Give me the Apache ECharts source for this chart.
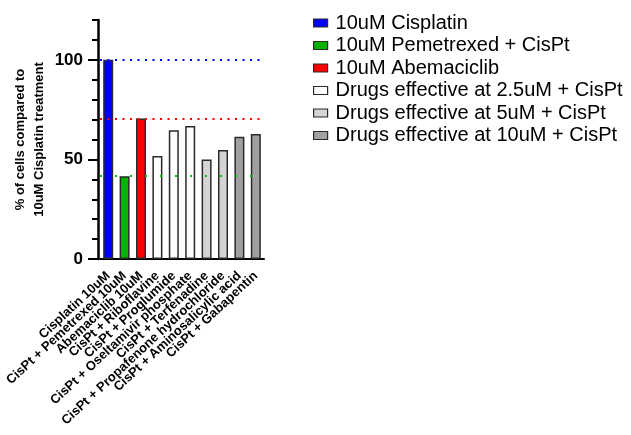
<!DOCTYPE html>
<html>
<head>
<meta charset="utf-8">
<script src="https://cdn.jsdelivr.net/npm/echarts@6/dist/echarts.min.js"></script>
<style>html,body{margin:0;padding:0;background:#fff}#c{width:631px;height:435px}</style>
</head>
<body>
<div id="c"></div>
<script>
const categories = ['Cisplatin 10uM','CisPt + Pemetrexed 10uM','Abemaciclib 10uM','CisPt + Riboflavine','CisPt + Proglumide','CisPt + Oseltamivir phosphate','CisPt + Terfenadine','CisPt + Propafenone hydrochloride','CisPt + Aminosalicylic acid','CisPt + Gabapentin'];
const values = [100, 41.6, 70.5, 51.7, 64.6, 66.8, 50, 54.7, 61.4, 62.8];
const groupOf = [0, 1, 2, 3, 3, 3, 4, 4, 5, 5];
const seriesNames = ['10uM Cisplatin','10uM Pemetrexed + CisPt','10uM Abemaciclib','Drugs effective at 2.5uM + CisPt','Drugs effective at 5uM + CisPt','Drugs effective at 10uM + CisPt'];
const seriesColors = ['#0000FF','#00B400','#FF0000','#FFFFFF','#D4D4D4','#A0A0A4'];
// reference lines: Cisplatin, Abemaciclib, Pemetrexed levels
const refLines = [
  {value: values[0], color: '#0000FF', dash: [2, 5.5]},
  {value: values[2], color: '#FF0000', dash: [2, 5.5]},
  {value: values[1], color: '#00C000', dash: [2, 13]}
];
const yMajorTicks = [0, 50, 100];

const chart = echarts.init(document.getElementById('c'), null, {renderer: 'canvas'});
const barSeries = seriesNames.map((name, g) => ({
  name: name,
  type: 'bar',
  stack: 'all',
  barWidth: 10,
  z: 3,
  data: values.map((v, i) => groupOf[i] === g ? v : '-'),
  itemStyle: {color: seriesColors[g], borderColor: '#2a2a2a', borderWidth: 1.5}
}));
const lineSeries = {
  name: 'ref', type: 'line', data: [], z: 1, silent: true,
  markLine: {
    silent: true, symbol: 'none', label: {show: false},
    data: refLines.map(r => ({yAxis: r.value, lineStyle: {color: r.color, type: r.dash, width: 2}}))
  }
};
const option = {
  animation: false,
  backgroundColor: '#fff',
  textStyle: {fontFamily: 'Liberation Sans, Arial, sans-serif'},
  grid: {left: 100, right: 367, top: 20, bottom: 176, containLabel: false},
  legend: {
    orient: 'vertical', left: 313, top: 13, padding: 0,
    data: seriesNames,
    icon: 'rect', itemWidth: 14, itemHeight: 8, itemGap: 2.5,
    textStyle: {fontSize: 20, lineHeight: 20, color: '#000', fontFamily: 'Liberation Sans, Arial, sans-serif', padding: [0,0,0,3]},
    itemStyle: {borderWidth: 1.2, borderColor: '#2a2a2a'}
  },
  xAxis: {
    type: 'category', data: categories, boundaryGap: true,
    axisLine: {lineStyle: {color: '#000', width: 2}},
    axisTick: {alignWithLabel: true, length: 10, lineStyle: {color: '#000', width: 2}},
    axisLabel: {rotate: 43, interval: 0, margin: 15, color: '#000', fontWeight: 'bold', fontSize: 13, fontFamily: 'Liberation Sans, Arial, sans-serif'},
    splitLine: {show: false}
  },
  yAxis: [{
    type: 'value', min: 0, max: 120, interval: 10, offset: 2,
    name: '% of cells compared to\n10uM Cisplatin treatment',
    nameLocation: 'middle', nameGap: 49, nameRotate: 90,
    nameTextStyle: {fontWeight: 'bold', fontSize: 13, lineHeight: 19, color: '#000', fontFamily: 'Liberation Sans, Arial, sans-serif'},
    axisLine: {show: true, lineStyle: {color: '#000', width: 2.5}},
    axisTick: {show: true, length: 6, lineStyle: {color: '#000', width: 2}},
    axisLabel: {customValues: yMajorTicks, margin: 15, color: '#000', fontWeight: 'bold', fontSize: 17, fontFamily: 'Liberation Sans, Arial, sans-serif'},
    splitLine: {show: false}
  }, {
    type: 'value', min: 0, max: 120, interval: 10, offset: 2, position: 'left',
    axisLine: {show: false},
    axisTick: {show: true, customValues: yMajorTicks, length: 10, lineStyle: {color: '#000', width: 2}},
    axisLabel: {show: false},
    splitLine: {show: false}
  }],
  series: barSeries.concat([lineSeries])
};
chart.setOption(option);
</script>
</body>
</html>
